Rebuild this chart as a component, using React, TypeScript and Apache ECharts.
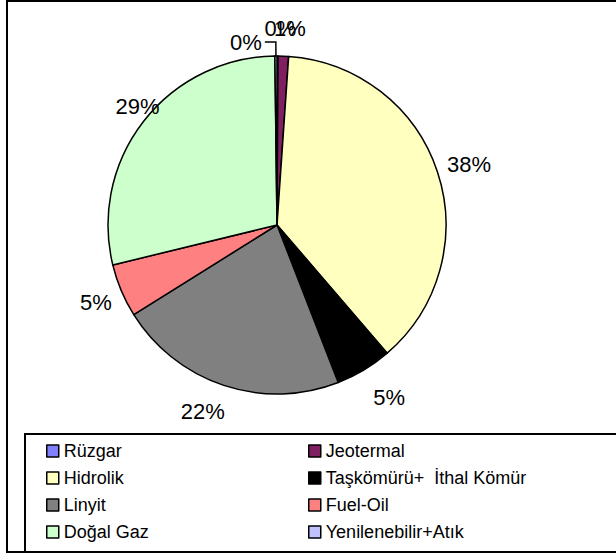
import React, { useEffect, useRef } from 'react';
import * as echarts from 'echarts';

const categories = [
  'Rüzgar',
  'Jeotermal',
  'Hidrolik',
  'Taşkömürü+  İthal Kömür',
  'Linyit',
  'Fuel-Oil',
  'Doğal Gaz',
  'Yenilenebilir+Atık',
];
const values = [0.1, 1.0, 37.6, 5.4, 22.0, 5.1, 28.6, 0.2];
const colors = ['#8080FF', '#802060', '#FFFFC0', '#000000', '#808080', '#FF8080', '#CCFFCC', '#C0C0FF'];
const legendLeftColumn = ['Rüzgar', 'Hidrolik', 'Linyit', 'Doğal Gaz'];
const legendRightColumn = ['Jeotermal', 'Taşkömürü+  İthal Kömür', 'Fuel-Oil', 'Yenilenebilir+Atık'];
const leaderLabelCategory = 'Yenilenebilir+Atık';
// small label nudges (text styling only), matching the original's label placement
const labelNudges: Record<string, number[]> = {
  'Hidrolik': [4, -2],
  'Taşkömürü+  İthal Kömür': [12, 3],
  'Linyit': [-12, 0],
  'Doğal Gaz': [18, 0],
};

const FONT = "'Liberation Sans', Arial, sans-serif";
const pct = (p: any) => Math.round(p.percent) + '%';

export default function App() {
  const ref = useRef<HTMLDivElement>(null);
  useEffect(() => {
    if (!ref.current) return;
    const chart = echarts.init(ref.current, null, { renderer: 'svg' });
    const center = [277, 225];
    const legendCommon = {
      orient: 'vertical',
      top: 442,
      padding: 0,
      itemWidth: 12,
      itemHeight: 12,
      itemGap: 9,
      icon: 'rect',
      selectedMode: false,
      itemStyle: { borderColor: '#000', borderWidth: 1.5 },
      textStyle: { fontSize: 18, lineHeight: 18, fontFamily: FONT, color: '#000' },
    };
    chart.setOption({
      animation: false,
      textStyle: { fontFamily: FONT },
      legend: [
        { ...legendCommon, left: 46, data: legendLeftColumn },
        { ...legendCommon, left: 308, data: legendRightColumn },
      ],
      graphic: [
        {
          type: 'rect',
          shape: { x: 7, y: 1, width: 640, height: 551 },
          style: { fill: 'none', stroke: '#000', lineWidth: 2 },
          silent: true,
        },
        {
          type: 'rect',
          shape: { x: 25, y: 434, width: 640, height: 118 },
          style: { fill: 'none', stroke: '#000', lineWidth: 2 },
          silent: true,
        },
      ],
      series: [
        {
          type: 'pie',
          center,
          radius: [0, 169],
          startAngle: 90,
          clockwise: true,
          avoidLabelOverlap: false,
          labelLayout: { hideOverlap: false },
          silent: true,
          itemStyle: { borderColor: '#000', borderWidth: 1.5 },
          label: { show: false },
          labelLine: { show: false },
          data: categories.map((name, i) => {
            const item: any = { name, value: values[i], itemStyle: { color: colors[i] } };
            if (name === leaderLabelCategory) {
              item.label = {
                show: true,
                position: 'outside',
                formatter: pct,
                fontSize: 22,
                fontFamily: FONT,
                color: '#000',
                distanceToLabelLine: 3,
              };
              item.labelLine = {
                show: true,
                length: 14,
                length2: 11,
                smooth: false,
                lineStyle: { color: '#000', width: 1.5 },
              };
            }
            return item;
          }),
        },
        {
          type: 'pie',
          center,
          radius: [169, 219],
          startAngle: 90,
          clockwise: true,
          minAngle: 2,
          minShowLabelAngle: 0,
          avoidLabelOverlap: false,
          labelLayout: { hideOverlap: false },
          silent: true,
          itemStyle: { color: 'transparent', borderWidth: 0 },
          label: {
            show: true,
            position: 'inside',
            rotate: 0,
            formatter: pct,
            fontSize: 22,
            fontFamily: FONT,
            color: '#000',
          },
          labelLine: { show: false },
          data: categories.map((name, i) => ({
            name,
            value: values[i],
            label: {
              show: name !== leaderLabelCategory,
              offset: labelNudges[name] || [0, 0],
            },
          })),
        },
      ],
    });
    return () => chart.dispose();
  }, []);
  return (
    <div
      ref={ref}
      style={{ position: 'absolute', left: 0, top: 0, width: 616, height: 555 }}
    />
  );
}
